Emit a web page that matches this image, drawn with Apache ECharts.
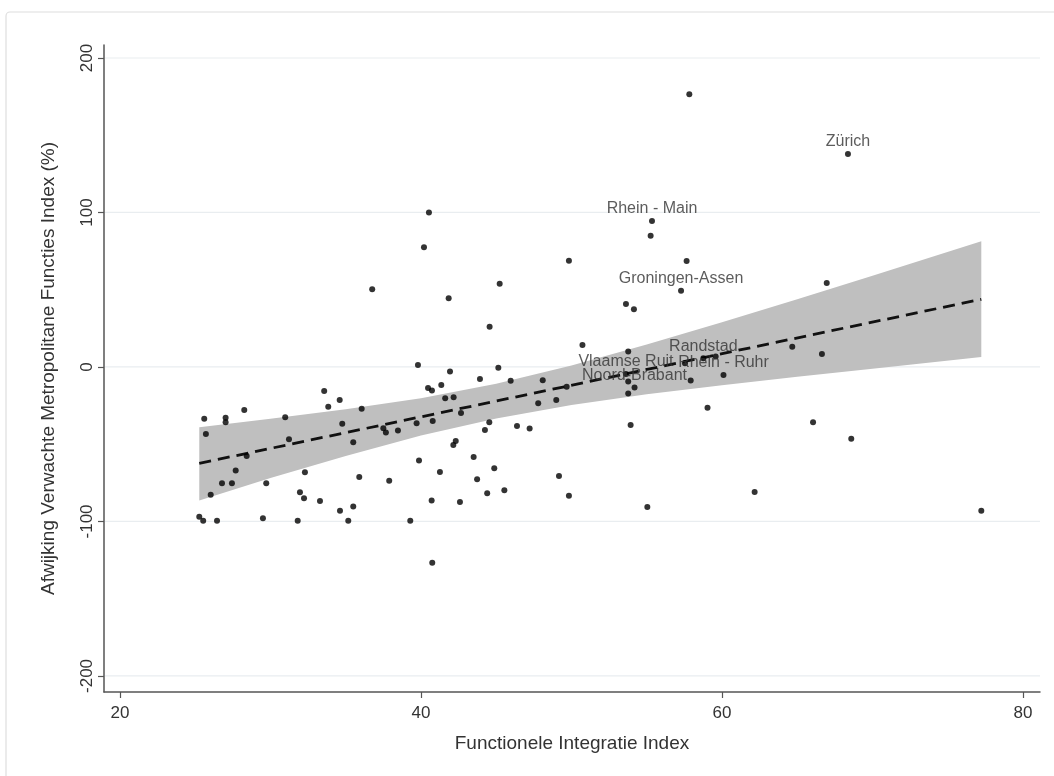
<!DOCTYPE html>
<html>
<head>
<meta charset="utf-8">
<script src="https://cdn.jsdelivr.net/npm/echarts@6/dist/echarts.min.js"></script>
<style>
html,body{margin:0;padding:0;background:#fff;}
#chart{width:1054px;height:776px;}
</style>
</head>
<body>
<div id="chart"></div>
<script>
// ---- data ----
const xTicks = [20, 40, 60, 80];
const yTicks = [-200, -100, 0, 100, 200];

const pointX = [33.57,34.60,33.84,28.26,25.60,27.02,27.02,30.98,36.06,34.77,25.71,31.23,35.50,28.42,27.69,32.29,35.90,26.78,27.44,29.72,26.03,31.96,32.23,33.29,34.62,35.50,25.27,25.53,26.45,29.50,31.81,35.17,
40.53,40.20,36.76,45.23,41.84,44.56,49.83,39.80,41.93,45.14,43.92,45.96,48.09,41.35,40.47,40.73,49.68,41.61,42.17,37.50,37.67,38.47,39.71,40.78,42.66,44.54,44.25,46.38,47.22,47.79,48.99,42.31,42.15,39.87,43.50,44.87,41.26,37.89,43.73,49.17,44.40,45.54,49.83,40.71,42.59,39.29,40.75,
57.83,55.26,57.65,53.62,54.15,50.73,53.77,64.67,59.58,57.54,57.92,53.77,53.77,59.04,53.93,62.17,55.04,66.96,66.64,66.05,68.59,77.23];
const pointY = [-15.5,-21.4,-25.7,-27.8,-33.5,-32.8,-35.8,-32.6,-27.0,-36.7,-43.4,-46.8,-48.7,-57.6,-67.1,-68.2,-71.2,-75.3,-75.3,-75.3,-82.8,-81.1,-85.0,-86.7,-93.0,-90.4,-96.9,-99.5,-99.5,-97.9,-99.5,-99.5,
99.9,77.5,50.3,53.9,44.5,26.1,68.8,1.3,-3.0,-0.5,-7.8,-8.9,-8.6,-11.7,-13.6,-15.2,-12.8,-20.3,-19.6,-39.7,-42.4,-41.2,-36.4,-35.0,-29.8,-35.8,-40.8,-38.2,-39.9,-23.5,-21.4,-47.9,-50.5,-60.6,-58.3,-65.6,-68.0,-73.6,-72.7,-70.6,-81.7,-79.8,-83.3,-86.5,-87.4,-99.5,-126.7,
176.5,85.0,68.6,40.8,37.3,14.2,10.0,13.1,6.7,2.4,-8.7,-9.4,-17.2,-26.4,-37.5,-80.9,-90.6,54.4,8.4,-35.8,-46.4,-93.0];

const regionNames = ["Zürich", "Rhein - Main", "Groningen-Assen", "Randstad", "Vlaamse Ruit", "Rhein - Ruhr", "Noord-Brabant"];
const regionX = [68.37, 55.35, 57.28, 58.76, 53.62, 60.10, 54.19];
const regionY = [137.9, 94.5, 49.4, 5.6, -4.5, -5.2, -13.3];

const fitX = [25.27, 77.23];
const fitY = [-62.4, 43.8];

const ciX  = [25.27, 30, 35, 40, 45, 50, 55, 60, 65, 70, 77.23];
const ciLo = [-86.5, -71.9, -57.6, -44.4, -33.3, -24.6, -17.7, -11.8, -6.3, -1.1, 6.5];
const ciHi = [-39.0, -33.5, -27.4, -20.2, -10.9, 0.9, 14.5, 29.0, 43.9, 59.1, 81.4];

const xTitle = "Functionele Integratie Index";
const yTitle = "Afwijking Verwachte Metropolitane Functies Index (%)";

// ---- chart ----
const FONT = "'Liberation Sans', Arial, sans-serif";
const chart = echarts.init(document.getElementById('chart'), null, {renderer: 'canvas'});

const option = {
  backgroundColor: '#ffffff',
  animation: false,
  graphic: [{
    type: 'rect', z: -10, silent: true,
    shape: {x: 6, y: 12, width: 1100, height: 820, r: 4},
    style: {fill: 'none', stroke: '#dedede', lineWidth: 1.2}
  }],
  grid: {left: 104, right: 14, top: 45, bottom: 84, containLabel: false},
  xAxis: {
    type: 'value', min: 18.94, max: 81.13,
    name: xTitle, nameLocation: 'middle', nameGap: 42,
    nameTextStyle: {fontFamily: FONT, fontSize: 19, color: '#333'},
    axisLine: {show: true, onZero: false, lineStyle: {color: '#555', width: 1.5}},
    axisTick: {show: true, inside: false, length: 6, customValues: xTicks, lineStyle: {color: '#555', width: 1.2}},
    axisLabel: {customValues: xTicks, margin: 13, fontFamily: FONT, fontSize: 17, color: '#333'},
    splitLine: {show: false}
  },
  yAxis: {
    type: 'value', min: -210.4, max: 208.4,
    name: yTitle, nameLocation: 'middle', nameGap: 46, nameRotate: 90,
    nameTextStyle: {fontFamily: FONT, fontSize: 19, color: '#333'},
    axisLine: {show: true, onZero: false, lineStyle: {color: '#555', width: 1.5}},
    axisTick: {show: true, inside: false, length: 6, customValues: yTicks, lineStyle: {color: '#555', width: 1.2}},
    axisLabel: {customValues: yTicks, rotate: 90, margin: 8, fontFamily: FONT, fontSize: 17, color: '#333'},
    splitLine: {show: false}
  },
  series: [
    {
      type: 'custom', z: 0, silent: true,
      data: yTicks.map(v => [0, v]),
      encode: {y: 1},
      renderItem: function (params, api) {
        const cs = params.coordSys;
        const y = api.coord([cs.x, api.value(1)])[1];
        return {type: 'line', shape: {x1: cs.x + 1, y1: y, x2: cs.x + cs.width, y2: y},
                style: {stroke: '#e9edf0', lineWidth: 1.2}};
      }
    },
    {
      type: 'custom', z: 1, silent: true,
      data: ciX.map((x, i) => [x, ciLo[i], ciHi[i]]),
      encode: {x: 0, y: [1, 2]},
      renderItem: function (params, api) {
        if (params.dataIndex !== 0) return null;
        const pts = [];
        for (let i = 0; i < ciX.length; i++) pts.push(api.coord([ciX[i], ciHi[i]]));
        for (let i = ciX.length - 1; i >= 0; i--) pts.push(api.coord([ciX[i], ciLo[i]]));
        return {type: 'polygon', shape: {points: pts}, style: {fill: '#bfbfbf', stroke: null}};
      }
    },
    {
      type: 'line', z: 3, silent: true, symbol: 'none',
      data: fitX.map((x, i) => [x, fitY[i]]),
      lineStyle: {color: '#111', width: 2.8, type: [12, 7]}
    },
    {
      type: 'scatter', z: 4, symbol: 'circle', symbolSize: 6,
      itemStyle: {color: '#000'},
      data: pointX.map((x, i) => [x, pointY[i]])
    },
    {
      type: 'scatter', z: 5, symbol: 'circle', symbolSize: 6,
      itemStyle: {color: '#000'},
      data: regionX.map((x, i) => ({value: [x, regionY[i]], name: regionNames[i]})),
      label: {
        show: true, position: 'top', distance: 1,
        formatter: p => p.name,
        fontFamily: FONT, fontSize: 16, color: '#333'
      }
    }
  ]
};
chart.setOption(option);
</script>
</body>
</html>
